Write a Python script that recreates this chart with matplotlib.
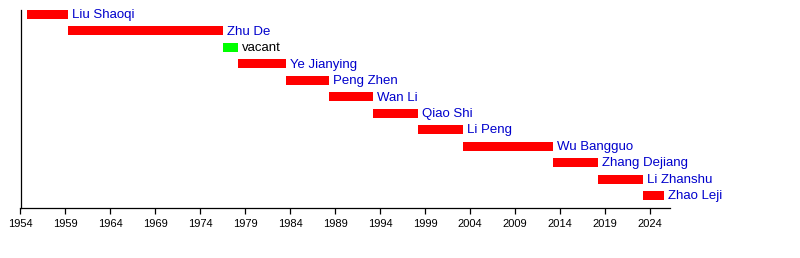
import matplotlib
matplotlib.use('Agg')
import matplotlib.pyplot as plt

# chairmen of the NPC standing committee, terms as decimal years
names = ['Liu Shaoqi', 'Zhu De', 'vacant', 'Ye Jianying', 'Peng Zhen', 'Wan Li',
         'Qiao Shi', 'Li Peng', 'Wu Bangguo', 'Zhang Dejiang', 'Li Zhanshu', 'Zhao Leji']
starts = [1954.7, 1959.3, 1976.5, 1978.2, 1983.5, 1988.3,
          1993.2, 1998.2, 2003.2, 2013.2, 2018.2, 2023.2]
ends = [1959.3, 1976.5, 1978.2, 1983.5, 1988.3, 1993.2,
        1998.2, 2003.2, 2013.2, 2018.2, 2023.2, 2025.6]
ticks = list(range(1954, 2025, 5))

plt.rcParams['font.family'] = ['Liberation Sans', 'DejaVu Sans']

fig = plt.figure(figsize=(8, 2.58), dpi=100)
ax = fig.add_axes([20.5 / 800, 50 / 258, (670 - 20.5) / 800, 198 / 258])

for i in range(len(names)):
    vacant = names[i] == 'vacant'
    ax.barh(i, ends[i] - starts[i], left=starts[i], height=0.55,
            color='#00ff00' if vacant else '#ff0000')
    ax.text(ends[i] + 0.45, i + 0.05, names[i], va='center', ha='left', fontsize=9.5,
            color='black' if vacant else '#0000cc')

ax.set_xlim(1954, 2026.25)
ax.set_ylim(11.76, -0.27)
ax.set_xticks(ticks)
ax.set_yticks([])
ax.tick_params(axis='x', length=4.5, width=0.9, labelsize=8, pad=3.5)
for side in ['top', 'right']:
    ax.spines[side].set_visible(False)
for side in ['left', 'bottom']:
    ax.spines[side].set_linewidth(0.9)

plt.savefig('out.png', dpi=100)
